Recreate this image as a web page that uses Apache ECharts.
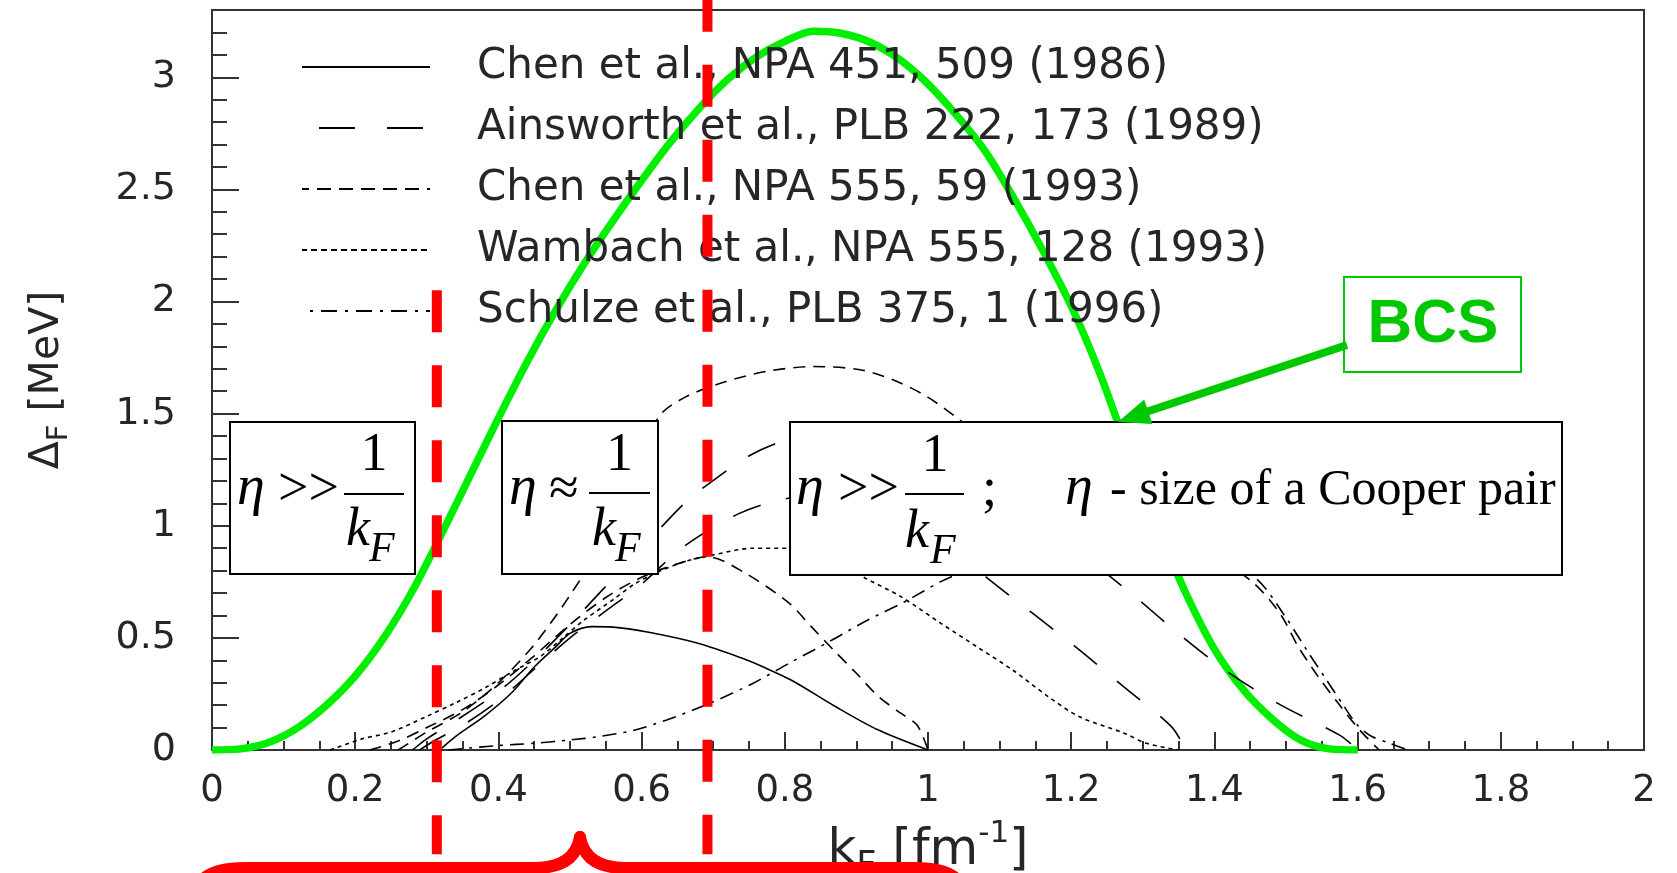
<!DOCTYPE html>
<html><head><meta charset="utf-8">
<script src="https://cdn.jsdelivr.net/npm/echarts@6/dist/echarts.min.js"></script>
<style>html,body{margin:0;padding:0;background:#fff}#c{width:1677px;height:873px}</style>
</head><body><div id="c"></div>
<script>
// ---------- data (k_F in fm^-1, gap in MeV) ----------
const xTickLabels = ['0','0.2','0.4','0.6','0.8','1','1.2','1.4','1.6','1.8','2'];
const yTickLabels = ['0','0.5','1','1.5','2','2.5','3'];
const legendNames = ['Chen et al., NPA 451, 509 (1986)','Ainsworth et al., PLB 222, 173 (1989)','Chen et al., NPA 555, 59 (1993)','Wambach et al., NPA 555, 128 (1993)','Schulze et al., PLB 375, 1 (1996)'];

const bcsK = [0,0.04,0.08,0.12,0.16,0.20,0.24,0.28,0.32,0.36,0.40,0.44,0.48,0.52,0.56,0.60,0.64,0.68,0.72,0.76,0.80,0.84,0.88,0.92,0.96,1.00,1.04,1.08,1.12,1.16,1.20,1.24,1.28,1.32,1.36,1.40,1.44,1.48,1.52,1.56,1.60];
const bcsD = [0,0.005,0.035,0.10,0.20,0.33,0.50,0.71,0.96,1.22,1.48,1.73,1.96,2.17,2.36,2.54,2.71,2.86,2.99,3.09,3.16,3.205,3.195,3.155,3.08,2.97,2.83,2.67,2.46,2.23,1.98,1.68,1.33,1.00,0.70,0.45,0.27,0.14,0.045,0.005,0];

const chen86K = [0.318,0.34,0.38,0.42,0.45,0.48,0.50,0.53,0.56,0.61,0.68,0.74,0.77,0.81,0.87,0.93,1.0];
const chen86D = [0,0.06,0.15,0.26,0.37,0.46,0.52,0.55,0.548,0.525,0.475,0.41,0.37,0.31,0.195,0.09,0];

const ains1K = [0.28,0.30,0.34,0.40,0.45,0.50,0.55,0.60,0.663,0.695,0.749,0.80,0.87,0.95,1.05,1.15,1.22,1.288,1.352,1.42,1.493,1.576,1.60];
const ains1D = [0,0.05,0.13,0.26,0.40,0.56,0.73,0.90,1.11,1.19,1.31,1.38,1.42,1.38,1.24,1.03,0.86,0.687,0.513,0.345,0.20,0.064,0];
const ains2K = [0.29,0.31,0.35,0.40,0.45,0.50,0.55,0.60,0.658,0.735,0.80,0.88,0.96,1.03,1.086,1.146,1.21,1.274,1.34,1.36];
const ains2D = [0,0.04,0.11,0.22,0.36,0.50,0.62,0.74,0.905,1.053,1.12,1.14,1.05,0.91,0.759,0.61,0.45,0.28,0.104,0];

const chen93aK = [0.22,0.26,0.30,0.35,0.40,0.45,0.50,0.55,0.60,0.65,0.692,0.744,0.806,0.837,0.868,0.90,0.931,0.962,0.985,1.0];
const chen93aD = [0,0.04,0.10,0.18,0.29,0.42,0.56,0.68,0.77,0.83,0.862,0.79,0.655,0.55,0.446,0.342,0.238,0.164,0.11,0];
const chen93bK = [0.26,0.30,0.35,0.40,0.45,0.50,0.55,0.59,0.625,0.663,0.718,0.774,0.839,0.905,0.951,0.998,1.044,1.10,1.20,1.30,1.40,1.455,1.493,1.517,1.545,1.573,1.603,1.63];
const chen93bD = [0,0.08,0.17,0.30,0.47,0.69,0.95,1.25,1.49,1.577,1.643,1.688,1.71,1.696,1.651,1.577,1.473,1.34,1.14,0.98,0.86,0.744,0.602,0.461,0.327,0.208,0.089,0];

const wambK = [0.165,0.21,0.25,0.30,0.34,0.38,0.42,0.46,0.49,0.52,0.56,0.59,0.62,0.66,0.70,0.756,0.807,0.86,0.912,0.962,1.018,1.068,1.118,1.168,1.211,1.274,1.305,1.35];
const wambD = [0,0.05,0.08,0.15,0.21,0.275,0.35,0.42,0.50,0.58,0.67,0.74,0.79,0.84,0.87,0.90,0.90,0.86,0.767,0.684,0.565,0.461,0.357,0.238,0.149,0.075,0.03,0];

const schK = [0.33,0.40,0.45,0.50,0.541,0.588,0.635,0.695,0.756,0.806,0.862,0.912,0.968,1.018,1.06,1.15,1.25,1.33,1.40,1.46,1.50,1.53,1.555,1.58,1.60,1.62,1.645,1.67];
const schD = [0,0.02,0.03,0.045,0.06,0.087,0.134,0.208,0.298,0.387,0.483,0.573,0.662,0.751,0.81,0.93,1.0,0.98,0.88,0.76,0.59,0.44,0.32,0.20,0.11,0.06,0.03,0];

// ---------- build ----------
const pairs = (ks, ds) => ks.map((k, i) => [k, ds[i]]);
const SANS = 'DejaVu Sans';
const SERIF = 'Liberation Serif';
const INK = '#262626';

function blackSeries(name, ks, ds, dash) {
  return {
    type: 'line', name, data: pairs(ks, ds), symbol: 'none', smooth: 0.3,
    lineStyle: { color: '#000', width: 1.6, type: dash }, itemStyle: { color: '#000' }, z: 3, silent: true
  };
}

const chart = echarts.init(document.getElementById('c'), null, { renderer: 'canvas', width: 1677, height: 873 });

const legendLine = [
  { type: 'solid' },
  { type: [36, 32], dashOffset: 51 },
  { type: [14, 8] },
  { type: [6, 4] },
  { type: [16, 8, 3, 8] }
];

chart.setOption({
  animation: false,
  backgroundColor: '#fff',
  grid: { left: 212, top: 10, width: 1432, height: 740, show: true, borderColor: '#333', borderWidth: 2,
          backgroundColor: 'transparent', containLabel: false, outerBoundsMode: 'none' },
  xAxis: {
    type: 'value', min: 0, max: 2, interval: 0.2,
    axisLine: { lineStyle: { color: '#333', width: 2 } },
    axisTick: { inside: true, length: 18, lineStyle: { color: '#333', width: 2 } },
    minorTick: { show: true, splitNumber: 4, length: 9, lineStyle: { color: '#333', width: 2 } },
    splitLine: { show: false }, minorSplitLine: { show: false },
    axisLabel: {
      fontSize: 37, fontFamily: SANS, color: INK, margin: 23,
      formatter: v => { const i = Math.round(v / 0.2); return Math.abs(v - i * 0.2) < 1e-6 && xTickLabels[i] !== undefined ? xTickLabels[i] : ''; }
    },
    name: '{a|k}{s|F}{a| [fm}{p|-1}{a|]}', nameLocation: 'middle', nameGap: 68, nameMoveOverlap: false,
    nameTextStyle: {
      rich: {
        a: { fontSize: 50, fontFamily: SANS, color: INK, lineHeight: 66 },
        s: { fontSize: 35, fontFamily: SANS, color: INK, verticalAlign: 'bottom' },
        p: { fontSize: 31, fontFamily: SANS, color: INK, verticalAlign: 'top' }
      }
    }
  },
  yAxis: {
    type: 'value', min: 0, max: 3.3, interval: 0.5,
    axisLine: { lineStyle: { color: '#333', width: 2 } },
    axisTick: { inside: true, length: 27, lineStyle: { color: '#333', width: 2 } },
    minorTick: { show: true, splitNumber: 5, length: 15, lineStyle: { color: '#333', width: 2 } },
    splitLine: { show: false }, minorSplitLine: { show: false },
    axisLabel: {
      fontSize: 38, fontFamily: SANS, color: INK, margin: 36,
      formatter: v => { const i = Math.round(v / 0.5); return Math.abs(v - i * 0.5) < 1e-6 && yTickLabels[i] !== undefined ? yTickLabels[i] : ''; }
    },
    name: '{a|Δ}{s|F}{a| [MeV]}', nameLocation: 'middle', nameRotate: 90, nameGap: 138, nameMoveOverlap: false,
    nameTextStyle: {
      rich: {
        a: { fontSize: 41, fontFamily: SANS, color: INK, lineHeight: 54 },
        s: { fontSize: 29, fontFamily: SANS, color: INK, verticalAlign: 'bottom' }
      }
    }
  },
  legend: {
    orient: 'vertical', left: 296, top: 41, padding: 5,
    itemWidth: 128, itemHeight: 14, itemGap: 19, selectedMode: false,
    itemStyle: { opacity: 0, color: '#000', borderWidth: 0 },
    data: legendNames.map((n, i) => ({ name: n, itemStyle: { opacity: 0 }, lineStyle: Object.assign({ color: '#000', width: 2 }, legendLine[i]) })),
    textStyle: { fontSize: 42, fontFamily: SANS, color: INK, padding: [0, 0, 0, 42] }
  },
  series: [
    { type: 'line', name: 'BCS', data: pairs(bcsK, bcsD), symbol: 'none', smooth: 0.3,
      lineStyle: { color: '#00ee00', width: 7.5 }, z: 2, silent: true },
    blackSeries(legendNames[0], chen86K, chen86D, 'solid'),
    blackSeries(legendNames[1], ains1K, ains1D, [30, 26]),
    blackSeries(legendNames[1], ains2K, ains2D, [30, 26]),
    blackSeries(legendNames[2], chen93aK, chen93aD, [12, 8]),
    blackSeries(legendNames[2], chen93bK, chen93bD, [12, 8]),
    blackSeries(legendNames[3], wambK, wambD, [4, 4]),
    blackSeries(legendNames[4], schK, schD, [14, 7, 3, 7])
  ]
});

// ---------- annotations ----------
const P = (k, d) => chart.convertToPixel({ gridIndex: 0 }, [k, d]);

function T(x, baseline, text, size, italic, opt) {
  opt = opt || {};
  const align = opt.align || 'left';
  return {
    type: 'text', x: x, y: baseline - 0.34 * size, z: 30, silent: true,
    style: {
      text: text, fontSize: size, fontFamily: opt.family || SERIF,
      fontStyle: italic ? 'italic' : 'normal', fontWeight: opt.weight || 'normal',
      fill: opt.fill || '#000', align: align, verticalAlign: 'middle',
      textAlign: align, textVerticalAlign: 'middle'
    }
  };
}
function box(x, y, w, h, stroke, lw) {
  return { type: 'rect', z: 28, silent: true, shape: { x: x, y: y, width: w, height: h },
           style: { fill: '#fff', stroke: stroke || '#000', lineWidth: lw || 2 } };
}
function bar(x1, x2, y) {
  return { type: 'line', z: 30, silent: true, shape: { x1: x1, y1: y, x2: x2, y2: y },
           style: { stroke: '#000', lineWidth: 2.2 } };
}

const g = [];
// box 1 : eta >> 1/kF
g.push(box(230, 422, 185, 152));
g.push(T(237, 508, 'η', 56, true));
g.push(T(278, 509, '>>', 54, false));
g.push(bar(344, 404, 494));
g.push(T(374, 474, '1', 54, false, { align: 'center' }));
g.push(T(346, 549, 'k', 54, true));
g.push(T(369, 564, 'F', 42, true));
// box 2 : eta ≈ 1/kF
g.push(box(502, 421, 156, 153));
g.push(T(509, 508, 'η', 56, true));
g.push(T(549, 509, '≈', 54, false));
g.push(bar(589, 650, 493));
g.push(T(619.5, 474, '1', 54, false, { align: 'center' }));
g.push(T(592, 549, 'k', 54, true));
g.push(T(615, 564, 'F', 42, true));
// box 3
g.push(box(790, 422, 772, 153));
g.push(T(796, 508, 'η', 56, true));
g.push(T(838, 509, '>>', 54, false));
g.push(bar(905, 964, 494));
g.push(T(935, 475, '1', 54, false, { align: 'center' }));
g.push(T(905, 551, 'k', 54, true));
g.push(T(930, 566, 'F', 42, true));
g.push(T(982, 509, ';', 54, false));
g.push(T(1065, 508, 'η', 56, true));
g.push(T(1110, 508, '- size of a Cooper pair', 50, false));
// BCS label and arrow
g.push(box(1344, 277, 177, 95, '#00c800', 2));
g.push({ type: 'text', x: 1433, y: 325, z: 30, silent: true,
  style: { text: 'BCS', fontSize: 62, fontFamily: 'Liberation Sans', fontWeight: 'bold', fill: '#00c800',
           align: 'center', verticalAlign: 'middle', textAlign: 'center', textVerticalAlign: 'middle' } });
g.push({ type: 'line', z: 31, silent: true, shape: { x1: 1347, y1: 345, x2: 1146, y2: 412 },
  style: { stroke: '#00c800', lineWidth: 8 } });
g.push({ type: 'polygon', z: 31, silent: true, shape: { points: [[1118, 422], [1152.4, 424.1], [1144.2, 399.5]] },
  style: { fill: '#00c800' } });
// red dashed separators
[[0.314, 2.05], [0.692, 3.39]].forEach(function (r) {
  const a = P(r[0], r[1]), b = P(r[0], -0.465);
  g.push({ type: 'line', z: 40, silent: true, shape: { x1: a[0], y1: a[1], x2: b[0], y2: b[1] },
           style: { stroke: '#ff0000', lineWidth: 10, lineDash: [42, 33] } });
});
// red brace (built from curve + line pieces)
const braceStyle = { stroke: '#ff0000', lineWidth: 12, lineCap: 'round', lineJoin: 'round', fill: null };
function qcurve(x1, y1, cx, cy, x2, y2) {
  return { type: 'bezierCurve', z: 40, silent: true, shape: { x1: x1, y1: y1, cpx1: cx, cpy1: cy, x2: x2, y2: y2 }, style: braceStyle };
}
function seg(x1, y1, x2, y2) {
  return { type: 'line', z: 40, silent: true, shape: { x1: x1, y1: y1, x2: x2, y2: y2 }, style: braceStyle };
}
g.push(qcurve(197, 888, 205, 868, 245, 868));
g.push(seg(245, 868, 535, 868));
g.push(qcurve(535, 868, 575, 868, 580, 837));
g.push(qcurve(580, 837, 585, 868, 625, 868));
g.push(seg(625, 868, 915, 868));
g.push(qcurve(915, 868, 955, 868, 963, 888));

chart.setOption({ graphic: { elements: g } });
</script>
</body></html>
